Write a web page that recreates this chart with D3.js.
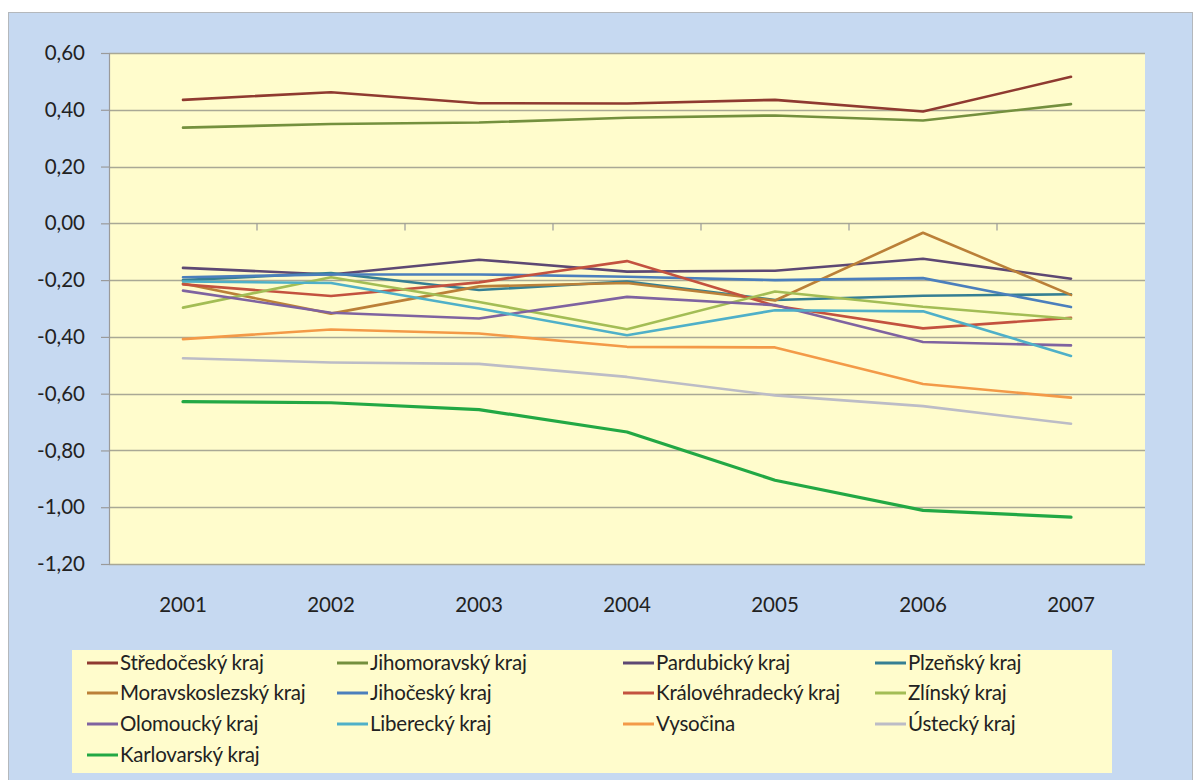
<!DOCTYPE html>
<html>
<head>
<meta charset="utf-8">
<script src="https://cdn.jsdelivr.net/npm/d3@7"></script>
<style>
  html, body { margin: 0; padding: 0; background: #ffffff; }
  svg { display: block; font-family: Lato, "Open Sans", sans-serif; }
</style>
</head>
<body>
<svg id="chart" width="1198" height="780"></svg>
<script>
// Years on the category axis
const years = ["2001", "2002", "2003", "2004", "2005", "2006", "2007"];

// Region names, in legend order
const regions = [
  "Středočeský kraj", "Jihomoravský kraj", "Pardubický kraj", "Plzeňský kraj",
  "Moravskoslezský kraj", "Jihočeský kraj", "Královéhradecký kraj", "Zlínský kraj",
  "Olomoucký kraj", "Liberecký kraj", "Vysočina", "Ústecký kraj",
  "Karlovarský kraj"
];

// Index values per region, 2001–2007
const stredocesky     = [0.435, 0.462, 0.423, 0.422, 0.435, 0.394, 0.516];
const jihomoravsky    = [0.337, 0.350, 0.355, 0.372, 0.380, 0.362, 0.420];
const pardubicky      = [-0.157, -0.180, -0.128, -0.170, -0.167, -0.125, -0.195];
const plzensky        = [-0.200, -0.175, -0.235, -0.205, -0.270, -0.255, -0.250];
const moravskoslezsky = [-0.212, -0.318, -0.222, -0.210, -0.272, -0.033, -0.252];
const jihocesky       = [-0.190, -0.180, -0.180, -0.188, -0.200, -0.193, -0.295];
const kralovehradecky = [-0.215, -0.256, -0.208, -0.133, -0.290, -0.370, -0.333];
const zlinsky         = [-0.297, -0.190, -0.277, -0.373, -0.240, -0.294, -0.336];
const olomoucky       = [-0.237, -0.315, -0.335, -0.259, -0.288, -0.418, -0.430];
const liberecky       = [-0.205, -0.210, -0.300, -0.394, -0.306, -0.310, -0.467];
const vysocina        = [-0.408, -0.374, -0.388, -0.435, -0.437, -0.566, -0.614];
const ustecky         = [-0.475, -0.490, -0.495, -0.541, -0.606, -0.644, -0.706];
const karlovarsky     = [-0.628, -0.632, -0.656, -0.735, -0.905, -1.011, -1.035];

// Value-axis ticks
const yTicks = [0.6, 0.4, 0.2, 0.0, -0.2, -0.4, -0.6, -0.8, -1.0, -1.2];

const seriesValues = [
  stredocesky, jihomoravsky, pardubicky, plzensky,
  moravskoslezsky, jihocesky, kralovehradecky, zlinsky,
  olomoucky, liberecky, vysocina, ustecky,
  karlovarsky
];

const colors = [
  "#8f3a30", "#74903e", "#5d4873", "#357f93",
  "#bb8038", "#4b7fbc", "#c3523f", "#a3bd55",
  "#7f63a0", "#4fb0c8", "#f39a48", "#bcbcc6",
  "#22a844"
];

const series = regions.map((name, i) => ({ name, values: seriesValues[i], color: colors[i] }));

const svg = d3.select("#chart");

// Chart area background
svg.append("rect")
  .attr("x", 8.5).attr("y", 12.5)
  .attr("width", 1184).attr("height", 780)
  .attr("fill", "#c6d9f1")
  .attr("stroke", "#b4b8bc").attr("stroke-width", 1);

const plot = { left: 109, right: 1145, top: 53, bottom: 564 };

const x = d3.scaleBand().domain(years).range([plot.left, plot.right]).padding(0);
const y = d3.scaleLinear().domain([-1.2, 0.6]).range([plot.bottom, plot.top]);

const locale = d3.formatLocale({ decimal: ",", thousands: " ", grouping: [3], currency: ["", ""], minus: "-" });
const fmt = locale.format(".2f");

// Plot area
svg.append("rect")
  .attr("x", plot.left).attr("y", plot.top)
  .attr("width", plot.right - plot.left).attr("height", plot.bottom - plot.top)
  .attr("fill", "#fffccc");

// Horizontal gridlines
svg.append("g")
  .selectAll("line")
  .data(yTicks)
  .join("line")
  .attr("x1", plot.left).attr("x2", plot.right)
  .attr("y1", d => Math.round(y(d)) + 0.5).attr("y2", d => Math.round(y(d)) + 0.5)
  .attr("stroke", "#a9a895").attr("stroke-width", 1.3);

// Value axis
const yAxis = svg.append("g")
  .attr("transform", `translate(${plot.left},0)`)
  .call(d3.axisLeft(y).tickValues(yTicks).tickFormat(fmt).tickSize(8).tickPadding(16));
yAxis.select(".domain").attr("stroke", "#9a9a9a").attr("stroke-width", 1.2);
yAxis.selectAll(".tick line").attr("stroke", "#9a9a9a").attr("stroke-width", 1.2);
yAxis.selectAll(".tick text")
  .attr("fill", "#222")
  .style("font-size", "20.5px")
  .style("font-family", "Lato, 'Open Sans', sans-serif");

// Category axis along zero, with ticks between categories
const zeroY = Math.round(y(0)) + 0.5;
svg.append("g")
  .selectAll("line")
  .data(years.slice(1))
  .join("line")
  .attr("x1", d => x(d)).attr("x2", d => x(d))
  .attr("y1", zeroY).attr("y2", zeroY + 7)
  .attr("stroke", "#9a9a9a").attr("stroke-width", 1.2);

// Category labels below the plot area
svg.append("g")
  .selectAll("text")
  .data(years)
  .join("text")
  .attr("x", d => x(d) + x.bandwidth() / 2)
  .attr("y", 612)
  .attr("text-anchor", "middle")
  .attr("fill", "#222")
  .style("font-size", "20.5px")
  .text(d => d);

// Series lines
const line = d3.line()
  .x((d, i) => x(years[i]) + x.bandwidth() / 2)
  .y(d => y(d));

svg.append("g")
  .selectAll("path")
  .data(series)
  .join("path")
  .attr("d", d => line(d.values))
  .attr("fill", "none")
  .attr("stroke", d => d.color)
  .attr("stroke-width", d => d.name === "Karlovarský kraj" ? 3.2 : 2.6)
  .attr("stroke-linejoin", "round")
  .attr("stroke-linecap", "round");

// Legend
const legend = { left: 72, top: 650, width: 1040, height: 123 };
svg.append("rect")
  .attr("x", legend.left).attr("y", legend.top)
  .attr("width", legend.width).attr("height", legend.height)
  .attr("fill", "#fffccc");

const colX = [87, 337, 623, 875];
const rowY = [663, 693, 724, 755];

const items = svg.append("g")
  .selectAll("g")
  .data(series)
  .join("g")
  .attr("transform", (d, i) => `translate(${colX[i % 4]},${rowY[Math.floor(i / 4)]})`);

items.append("line")
  .attr("x1", 0).attr("x2", 31)
  .attr("y1", 0).attr("y2", 0)
  .attr("stroke", d => d.color)
  .attr("stroke-width", 3);

items.append("text")
  .attr("x", 33).attr("y", 0)
  .attr("dy", "0.35em")
  .attr("fill", "#222")
  .style("font-size", "20.5px")
  .style("letter-spacing", "-0.2px")
  .text(d => d.name);
</script>
</body>
</html>
